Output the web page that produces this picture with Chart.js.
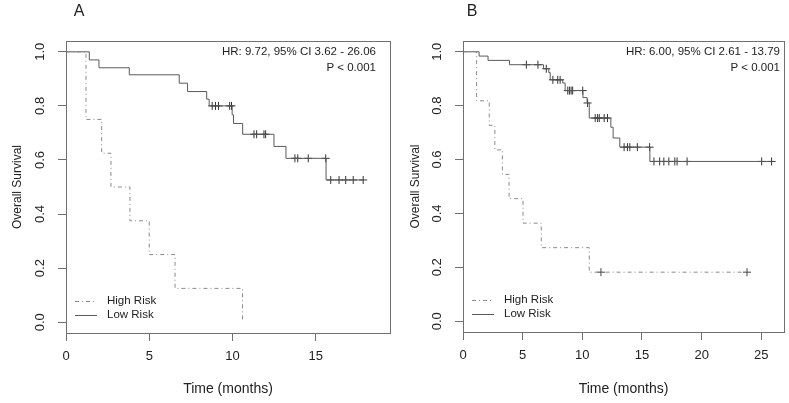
<!DOCTYPE html>
<html><head><meta charset="utf-8">
<script src="https://cdn.jsdelivr.net/npm/chart.js@4.4.1/dist/chart.umd.min.js"></script>
<style>
html,body{margin:0;padding:0;background:#fff;}
#wrap{position:relative;width:789px;height:403px;overflow:hidden;}
canvas{position:absolute;left:0;top:0;}
</style></head><body>
<div id="wrap"><canvas id="cA" width="789" height="403"></canvas><canvas id="cB" width="789" height="403"></canvas></div>
<script>
const FONT = '"Liberation Sans", Arial, Helvetica, sans-serif';

// ---------- Panel A data ----------
const lowA_time = [0, 1.4, 1.98, 3.8, 6.8, 7.3, 8.45, 8.6, 9.98, 10.06, 10.61, 12.49, 13.21, 15.62, 17.85];
const lowA_surv = [1, 0.97, 0.941, 0.915, 0.884, 0.853, 0.825, 0.80, 0.767, 0.735, 0.695, 0.65, 0.606, 0.526, 0.526];
const lowA_censTime = [8.78, 8.98, 9.16, 9.83, 9.94, 11.29, 11.45, 11.89, 11.99, 13.75, 13.92, 14.55, 15.6, 15.9, 16.4, 16.8, 17.25, 17.85];
const lowA_censSurv = [0.80, 0.80, 0.80, 0.80, 0.80, 0.695, 0.695, 0.695, 0.695, 0.606, 0.606, 0.606, 0.606, 0.526, 0.526, 0.526, 0.526, 0.526];
const highA_time = [0, 1.2, 2.14, 2.7, 3.84, 5.0, 6.55, 10.6];
const highA_surv = [1, 0.75, 0.625, 0.5, 0.375, 0.25, 0.125, 0];
const xTicksA = [0, 5, 10, 15];
const statsA = ['HR: 9.72, 95% CI 3.62 - 26.06', 'P < 0.001'];

// ---------- Panel B data ----------
const lowB_time = [0, 1.35, 2.1, 3.9, 6.75, 7.19, 7.31, 8.36, 8.56, 10.05, 10.4, 10.58, 12.39, 12.58, 13.14, 15.66, 25.86];
const lowB_surv = [1, 0.984, 0.968, 0.952, 0.937, 0.923, 0.896, 0.884, 0.856, 0.83, 0.81, 0.754, 0.72, 0.68, 0.646, 0.593, 0.593];
const lowB_censTime = [5.31, 6.28, 6.98, 7.53, 7.94, 8.14, 8.78, 8.92, 9.06, 9.19, 10.03, 10.44, 11.08, 11.28, 11.42, 11.83, 12.11, 13.5, 13.78, 13.98, 14.61, 15.64, 16.0, 16.48, 16.83, 17.25, 17.75, 17.94, 18.78, 25.03, 25.86];
const lowB_censSurv = [0.952, 0.952, 0.937, 0.896, 0.896, 0.896, 0.856, 0.856, 0.856, 0.856, 0.856, 0.81, 0.754, 0.754, 0.754, 0.754, 0.754, 0.646, 0.646, 0.646, 0.646, 0.646, 0.593, 0.593, 0.593, 0.593, 0.593, 0.593, 0.593, 0.593, 0.593];
const highB_time = [0, 1.14, 2.2, 2.67, 3.3, 3.86, 5.03, 6.56, 10.58, 23.8];
const highB_surv = [1, 0.818, 0.727, 0.636, 0.545, 0.455, 0.364, 0.273, 0.182, 0.182];
const highB_censTime = [11.56, 23.8];
const highB_censSurv = [0.182, 0.182];
const xTicksB = [0, 5, 10, 15, 20, 25];
const statsB = ['HR: 6.00, 95% CI 2.61 - 13.79', 'P < 0.001'];

// ---------- shared ----------
const yTicks = [0, 0.2, 0.4, 0.6, 0.8, 1.0];
const yTickLabels = ['0.0', '0.2', '0.4', '0.6', '0.8', '1.0'];
const seriesNames = ['High Risk', 'Low Risk'];
const xTitle = 'Time (months)';
const yTitle = 'Overall Survival';

const LOW_COLOR = '#5a5a5a';
const HIGH_COLOR = '#8a8a8a';
const HIGH_DASH = [4, 3, 1, 3];
const AXIS_COLOR = '#707070';
const TEXT_COLOR = '#222';

function pts(xs, ys) { return xs.map((x, i) => ({x: x, y: ys[i]})); }

function makePanel(cfg) {
  const plugin = {
    id: 'panel' + cfg.letter,
    afterDraw(chart) {
      const {ctx, chartArea: a, scales} = chart;
      ctx.save();
      ctx.strokeStyle = AXIS_COLOR; ctx.lineWidth = 1; ctx.setLineDash([]);
      ctx.strokeRect(Math.round(a.left) + 0.5, Math.round(a.top) + 0.5, Math.round(a.right - a.left), Math.round(a.bottom - a.top));
      ctx.fillStyle = TEXT_COLOR;
      ctx.font = '13px ' + FONT;
      ctx.textAlign = 'center'; ctx.textBaseline = 'middle';
      scales.y.ticks.forEach(t => {
        const idx = yTicks.indexOf(Math.round(t.value * 10) / 10);
        const y = scales.y.getPixelForValue(t.value);
        ctx.save(); ctx.translate(a.left - 26, y); ctx.rotate(-Math.PI / 2);
        ctx.fillText(yTickLabels[idx], 0, 0); ctx.restore();
      });
      ctx.font = '16px ' + FONT; ctx.textAlign = 'center';
      ctx.fillText(cfg.letter, cfg.letterX, 12);
      ctx.font = '11.5px ' + FONT; ctx.textAlign = 'right';
      cfg.stats.forEach((s, i) => ctx.fillText(s, cfg.statsRight, 52 + i * 15.5));
      // legend
      ctx.font = '11.5px ' + FONT; ctx.textAlign = 'left';
      const rows = [{name: seriesNames[0], color: HIGH_COLOR, dash: HIGH_DASH, y: a.bottom - 32},
                    {name: seriesNames[1], color: LOW_COLOR, dash: [], y: a.bottom - 18.5}];
      rows.forEach(r => {
        ctx.strokeStyle = r.color; ctx.setLineDash(r.dash); ctx.lineWidth = 1;
        ctx.beginPath(); ctx.moveTo(a.left + 9, Math.round(r.y) + 0.5); ctx.lineTo(a.left + 31, Math.round(r.y) + 0.5); ctx.stroke();
        ctx.setLineDash([]);
        ctx.fillStyle = TEXT_COLOR; ctx.fillText(r.name, a.left + 41, r.y);
      });
      ctx.restore();
    }
  };

  const datasets = [
    {label: seriesNames[0], data: pts(cfg.highT, cfg.highS), showLine: true, stepped: true, borderColor: HIGH_COLOR, borderDash: HIGH_DASH, borderWidth: 1, pointRadius: 0, fill: false},
    {label: seriesNames[1], data: pts(cfg.lowT, cfg.lowS), showLine: true, stepped: true, borderColor: LOW_COLOR, borderWidth: 1, pointRadius: 0, fill: false},
    {label: 'censor-low', data: pts(cfg.lowCT, cfg.lowCS), showLine: false, pointStyle: 'cross', pointRadius: 4, borderColor: '#333', borderWidth: 1},
  ];
  if (cfg.highCT) datasets.push({label: 'censor-high', data: pts(cfg.highCT, cfg.highCS), showLine: false, pointStyle: 'cross', pointRadius: 4, borderColor: '#444', borderWidth: 1});

  return new Chart(document.getElementById(cfg.canvas), {
    type: 'scatter',
    data: {datasets},
    options: {
      responsive: false, animation: false, devicePixelRatio: 1,
      layout: {padding: {left: cfg.padLeft, right: cfg.padRight, top: 41, bottom: 0}},
      plugins: {legend: {display: false}, tooltip: {enabled: false}},
      scales: {
        x: {
          type: 'linear', min: 0, max: cfg.xMax,
          afterBuildTicks: s => { s.ticks = cfg.xTicks.map(v => ({value: v})); },
          afterFit: s => { s.height = cfg.xAxisH; },
          grid: {drawOnChartArea: false, drawTicks: true, tickLength: 8, color: AXIS_COLOR},
          border: {display: true, color: AXIS_COLOR},
          ticks: {color: TEXT_COLOR, font: {family: FONT, size: 13}, padding: 8, maxRotation: 0, autoSkip: false},
          title: {display: true, text: xTitle, color: TEXT_COLOR, font: {family: FONT, size: 14}, padding: {top: 0, bottom: 5}}
        },
        y: {
          type: 'linear', min: -0.04, max: 1.04,
          afterBuildTicks: s => { s.ticks = yTicks.map(v => ({value: v})); },
          afterFit: s => { s.width = cfg.yAxisW; },
          grid: {drawOnChartArea: false, drawTicks: true, tickLength: 8, color: AXIS_COLOR},
          border: {display: true, color: AXIS_COLOR},
          ticks: {display: false},
          title: {display: true, text: yTitle, color: TEXT_COLOR, font: {family: FONT, size: 12}, padding: {top: cfg.yTitlePad, bottom: 0}}
        }
      }
    },
    plugins: [plugin]
  });
}

makePanel({canvas: 'cA', letter: 'A', letterX: 79, stats: statsA, statsRight: 376,
  highT: highA_time, highS: highA_surv, lowT: lowA_time, lowS: lowA_surv,
  lowCT: lowA_censTime, lowCS: lowA_censSurv,
  xMax: 19.46, xTicks: xTicksA, padLeft: 0, padRight: 399, yAxisW: 66, xAxisH: 70, yTitlePad: 10});

makePanel({canvas: 'cB', letter: 'B', letterX: 472, stats: statsB, statsRight: 780,
  highT: highB_time, highS: highB_surv, highCT: highB_censTime, highCS: highB_censSurv,
  lowT: lowB_time, lowS: lowB_surv, lowCT: lowB_censTime, lowCS: lowB_censSurv,
  xMax: 26.9, xTicks: xTicksB, padLeft: 400, padRight: 3, yAxisW: 63, xAxisH: 71, yTitlePad: 8});
</script>
</body></html>
